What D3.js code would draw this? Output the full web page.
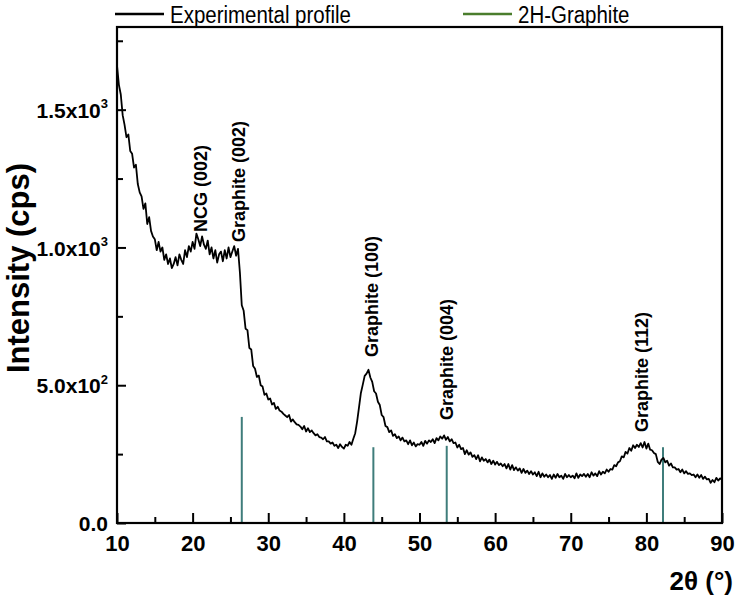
<!DOCTYPE html>
<html><head><meta charset="utf-8">
<script src="https://cdn.jsdelivr.net/npm/d3@7"></script>
<style>body{margin:0;background:#fff} svg{display:block}</style>
</head><body><svg id="c" width="735" height="598"></svg>
<script>
// ---- data ----
const angleStart = 10, angleStep = 0.25;
const intensity = [
1660,1590,1555,1480, 1445,1400,1410,1350, 1340,1290,1300,1230, 1200,1185,1140,1160,
1085,1110,1060,1040, 1030,990,1020,985, 1000,955,975,940, 960,925,940,965,
935,975,955,940, 990,965,1005,985, 1020,995,1050,1030, 1005,1040,1010,995,
1025,975,1000,960, 990,945,975,985, 950,990,960,1000, 965,985,1005,970,
995,910,790,770, 705,700,635,630, 570,560,530,535, 500,495,465,470,
448,452,430,436, 414,422,408,404, 396,390,384,392, 368,376,366,358,
356,350,340,352, 332,344,330,336, 326,318,322,312, 310,304,312,296,
296,288,292,280, 284,272,286,276, 270,284,280,294, 284,306,326,368,
420,472,502,534, 542,556,528,512, 478,470,440,428, 392,384,352,348,
330,336,316,322, 308,314,300,310, 296,300,286,300, 282,292,278,286,
284,294,280,298, 288,300,294,304, 290,308,300,314, 306,318,302,312,
296,304,290,292, 274,284,268,272, 250,264,248,256, 240,246,232,246,
224,238,226,232, 220,230,214,226, 212,222,210,216, 206,214,198,214,
194,210,192,202, 190,198,182,196, 182,190,178,188, 176,184,170,186,
166,180,168,176, 166,174,160,176, 164,178,166,172, 160,178,166,174,
166,172,162,180, 164,176,170,178, 168,178,166,184, 172,180,170,188,
176,186,180,194, 186,196,194,210, 206,220,224,242, 238,258,252,272,
262,282,272,284, 276,290,274,294, 270,288,266,264, 254,250,222,214,
230,236,220,226, 208,216,202,202, 194,196,184,194, 180,188,178,180,
174,176,166,176, 164,174,160,168, 158,160,146,156, 148,164,154,162,
158];
const refAngles = [26.5, 43.9, 53.6, 82.2];
const refIntensity = [385, 275, 280, 275];
const peakLabels = ["NCG (002)", "Graphite (002)", "Graphite (100)", "Graphite (004)", "Graphite (112)"];
const peakAngles = [21.9, 26.9, 44.5, 54.4, 80.2];
const peakIntensity = [1056, 1020, 602, 374, 330];
const xMajor = [10,20,30,40,50,60,70,80,90];
const xMinor = [15,25,35,45,55,65,75,85];
const yMajor = [0,500,1000,1500];
const yMajorMant = ["0.0","5.0","1.0","1.5"];
const yMajorExp = ["","2","3","3"];
const yMinor = [250,750,1250,1750];
const legendLabels = ["Experimental profile","2H-Graphite"];
const xTitle = "2θ (°)", yTitle = "Intensity (cps)";

// ---- layout ----
const L = 117, R = 722, T = 27, B = 523;
const FONT = "'Liberation Sans', Arial, sans-serif";
const svg = d3.select("#c");
const x = d3.scaleLinear().domain([10,90]).range([L,R]);
const y = d3.scaleLinear().domain([0,1800]).range([B,T]);

svg.append("defs").append("clipPath").attr("id","clip")
  .append("rect").attr("x",L).attr("y",T).attr("width",R-L).attr("height",B-T);

// reference sticks
svg.append("g").attr("clip-path","url(#clip)").selectAll("line").data(refAngles).join("line")
  .attr("x1",d=>x(d)).attr("x2",d=>x(d)).attr("y1",y(0)).attr("y2",(d,i)=>y(refIntensity[i]))
  .attr("stroke","#3f7d7b").attr("stroke-width",2);

// profile
const line = d3.line().x((d,i)=>x(angleStart+i*angleStep)).y(d=>y(d));
svg.append("path").attr("clip-path","url(#clip)").datum(intensity).attr("d",line)
  .attr("fill","none").attr("stroke","#000").attr("stroke-width",1.8).attr("stroke-linejoin","round");

// axes
const gx = svg.append("g").attr("transform",`translate(0,${B})`)
  .call(d3.axisBottom(x).tickValues(xMajor).tickSizeInner(-10).tickSizeOuter(0).tickPadding(12).tickFormat(d3.format("d")));
svg.append("g").attr("transform",`translate(0,${B})`)
  .call(d3.axisBottom(x).tickValues(xMinor).tickSizeInner(-6).tickSizeOuter(0).tickFormat(""));
const gy = svg.append("g").attr("transform",`translate(${L},0)`)
  .call(d3.axisLeft(y).tickValues(yMajor).tickSizeInner(-9).tickSizeOuter(0).tickPadding(9).tickFormat(""));
svg.append("g").attr("transform",`translate(${L},0)`)
  .call(d3.axisLeft(y).tickValues(yMinor).tickSizeInner(-6).tickSizeOuter(0).tickFormat(""));
svg.selectAll(".domain").remove();
svg.selectAll(".tick line").attr("stroke","#000").attr("stroke-width",2);
gx.selectAll("text").attr("font-family",FONT).attr("font-weight","bold").attr("font-size",22).attr("fill","#000");
gy.selectAll(".tick text").each(function(d,i){
  const t = d3.select(this).attr("font-family",FONT).attr("font-weight","bold").attr("font-size",21)
     .attr("fill","#000").attr("dy","0.36em").text(null);
  t.append("tspan").text(yMajorMant[i] + (yMajorExp[i] ? "x10" : ""));
  if (yMajorExp[i]) t.append("tspan").attr("font-size",13).attr("dy","-0.75em").text(yMajorExp[i]);
});

// frame
svg.append("rect").attr("x",L).attr("y",T).attr("width",R-L).attr("height",B-T)
  .attr("fill","none").attr("stroke","#000").attr("stroke-width",2.2);

// peak labels
svg.append("g").selectAll("text").data(peakLabels).join("text")
  .attr("transform",(d,i)=>`translate(${x(peakAngles[i])},${y(peakIntensity[i])}) rotate(-90)`)
  .attr("font-family",FONT).attr("font-weight","bold").attr("font-size",18).attr("fill","#000")
  .text(d=>d);

// titles
svg.append("text").attr("transform",`translate(29,268) rotate(-90)`)
  .attr("text-anchor","middle").attr("font-family",FONT).attr("font-weight","bold").attr("font-size",31)
  .text(yTitle);
svg.append("text").attr("x",733).attr("y",590).attr("text-anchor","end")
  .attr("font-family",FONT).attr("font-weight","bold").attr("font-size",26).text(xTitle);

// legend
const legColors = ["#000","#4a7d2c"];
const legX = [115, 463];
const lg = svg.append("g");
legendLabels.forEach((lab,i)=>{
  lg.append("line").attr("x1",legX[i]).attr("x2",legX[i]+49).attr("y1",14).attr("y2",14)
    .attr("stroke",legColors[i]).attr("stroke-width",2.5);
  lg.append("text").attr("transform",`translate(${legX[i]+55},23) scale(0.89,1)`)
    .attr("font-family",FONT).attr("font-size",23).attr("fill","#000").text(lab);
});
</script></body></html>
